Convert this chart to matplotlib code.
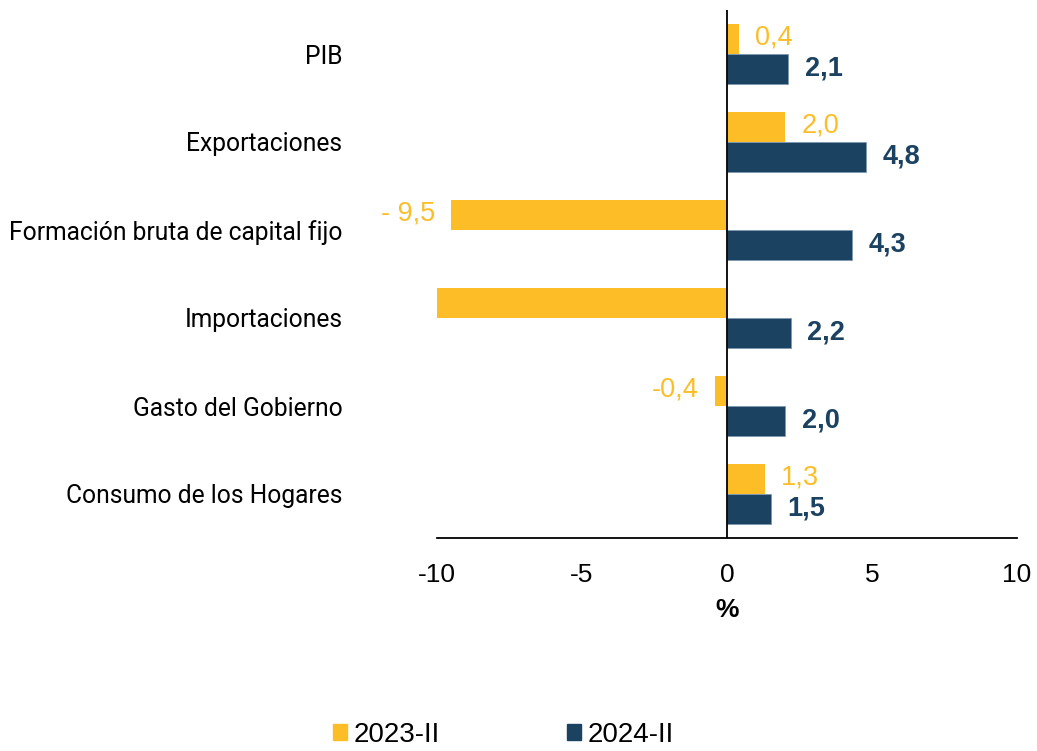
import matplotlib
matplotlib.use("Agg")
import matplotlib.pyplot as plt
import numpy as np
from matplotlib.patches import Patch

categories = ["PIB", "Exportaciones", "Formación bruta de capital fijo",
              "Importaciones", "Gasto del Gobierno", "Consumo de los Hogares"]
s2023 = [0.4, 2.0, -9.5, -10.0, -0.4, 1.3]
s2023_labels = ["0,4", "2,0", "- 9,5", None, "-0,4", "1,3"]
s2024 = [2.1, 4.8, 4.3, 2.2, 2.0, 1.5]
s2024_labels = ["2,1", "4,8", "4,3", "2,2", "2,0", "1,5"]
xticks = [-10, -5, 0, 5, 10]
series_names = ["2023-II", "2024-II"]

YEL = "#FDBD26"
NAVY = "#1C4262"

fig = plt.figure(figsize=(10.37, 7.51), dpi=100)
ax = fig.add_axes([437/1037, 1-538/751, 580/1037, 528/751])

n = len(categories)
y = np.arange(n)
h = 0.34
ax.barh(y - h/2, s2023, height=h, color=YEL, zorder=2)
ax.barh(y + h/2, s2024, height=h, color=NAVY, edgecolor="#7f98b0", linewidth=0.6, zorder=2)

ax.set_xlim(-10, 10)
ax.set_ylim(n - 0.5, -0.5)
ax.axvline(0, color="black", lw=1.3, zorder=3)

for yi, v, lab in zip(y, s2023, s2023_labels):
    if lab is None:
        continue
    off = 12 if v >= 0 else -12
    ax.annotate(lab, (v, yi - h/2), xytext=(off, 1), textcoords="offset points",
                ha="left" if v >= 0 else "right", va="center", color=YEL,
                fontsize=19.5, family="Liberation Sans")
for yi, v, lab in zip(y, s2024, s2024_labels):
    ax.annotate(lab, (v, yi + h/2), xytext=(12, 0), textcoords="offset points",
                ha="left", va="center", color=NAVY, fontsize=19.5,
                fontweight="bold", family="Liberation Sans")

ax.set_yticks(y)
ax.set_yticklabels(categories, family="Roboto", fontweight="normal", fontsize=17.7)
ax.tick_params(axis="y", length=0, pad=68)
ax.set_xticks(xticks)
ax.set_xticklabels([str(t) for t in xticks], family="Liberation Sans", fontsize=19)
ax.tick_params(axis="x", length=0, pad=18)
ax.set_xlabel("%", family="Liberation Sans", fontweight="bold", fontsize=19, labelpad=8)

for s in ["left", "right", "top"]:
    ax.spines[s].set_visible(False)
ax.spines["bottom"].set_linewidth(1.3)
ax.spines["bottom"].set_zorder(3)

handles = [Patch(color=YEL), Patch(color=NAVY)]
fig.legend(handles, series_names, loc="center", bbox_to_anchor=(0.4855, 0.0213), ncol=2,
           frameon=False, handlelength=0.5, handleheight=0.5, handletextpad=0.22,
           columnspacing=4.6, prop={"family": "Liberation Sans", "size": 20})

fig.savefig("out.png", dpi=100)
